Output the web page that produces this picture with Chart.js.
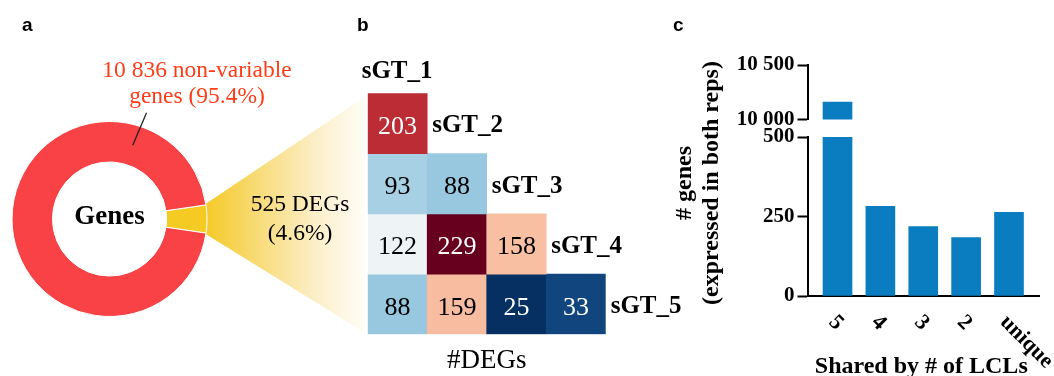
<!DOCTYPE html>
<html>
<head>
<meta charset="utf-8">
<script src="https://cdn.jsdelivr.net/npm/chart.js@4.4.1/dist/chart.umd.min.js"></script>
<style>
  html, body { margin: 0; padding: 0; background: #fff; }
  #page { position: relative; width: 1054px; height: 376px; overflow: hidden; }
  canvas { position: absolute; top: 0; }
  .tag { position: absolute; top: 15px; font: bold 19px/19px 'Liberation Sans', Arial, sans-serif; color: #000; }
</style>
</head>
<body>
<div id="page">
  <canvas id="donut" style="left:0" width="370" height="376"></canvas>
  <canvas id="heat" style="left:340px" width="360" height="376"></canvas>
  <canvas id="barsLow" style="left:670px" width="384" height="376"></canvas>
  <canvas id="barsHigh" style="left:670px" width="384" height="140"></canvas>
  <div class="tag" style="left:22px">a</div>
  <div class="tag" style="left:357px">b</div>
  <div class="tag" style="left:673px">c</div>
</div>
<script>
// panel a: all genes split into DEGs / non-variable
const geneGroups = ['DEGs', 'non-variable genes'];
const geneCounts = [525, 10836];

// panel b: DEGs between pairs of genotypes (lower triangle, one row per genotype)
const genotypes = ['sGT_1', 'sGT_2', 'sGT_3', 'sGT_4', 'sGT_5'];
const degRow2 = [203];
const degRow3 = [93, 88];
const degRow4 = [122, 229, 158];
const degRow5 = [88, 159, 25, 33];

// panel c: genes shared by number of LCLs (broken y axis)
const sharedLabels = ['5', '4', '3', '2', 'unique'];
const sharedCounts = [10160, 282, 218, 184, 263];
const lowTicks = [0, 250, 500];
const highTicks = [10000, 10500];

const SERIF = '"Liberation Serif", "Times New Roman", serif';
const fmt = n => String(n).replace(/\B(?=(\d{3})+(?!\d))/g, ' ');
const noInteraction = { responsive: false, animation: false, events: [] };
const quiet = { legend: { display: false }, tooltip: { enabled: false } };

// ---------- panel b ----------
const degRows = [degRow2, degRow3, degRow4, degRow5];
const allDeg = degRows.flat();
const degLo = Math.min(...allDeg), degHi = Math.max(...allDeg);
const tOf = v => (v - degLo) / (degHi - degLo);

const rdbu = ['#053061', '#2166ac', '#4393c3', '#92c5de', '#d1e5f0', '#f7f7f7',
              '#fddbc7', '#f4a582', '#d6604d', '#b2182b', '#67001f'];
function hexRgb(h) { return [1, 3, 5].map(i => parseInt(h.slice(i, i + 2), 16)); }
function rdbuColor(t) {
  const p = Math.min(Math.max(t, 0), 1) * (rdbu.length - 1);
  const i = Math.min(Math.floor(p), rdbu.length - 2);
  const f = p - i;
  const a = hexRgb(rdbu[i]), b = hexRgb(rdbu[i + 1]);
  return 'rgb(' + a.map((v, k) => Math.round(v + (b[k] - v) * f)).join(',') + ')';
}

const heatText = {
  id: 'heatText',
  afterDatasetsDraw(chart) {
    const { ctx, chartArea } = chart;
    ctx.save();
    chart.data.datasets.forEach((ds, r) => {
      const cells = chart.getDatasetMeta(r).data;
      ctx.font = '26px ' + SERIF;
      ctx.textAlign = 'center';
      cells.forEach((el, c) => {
        const v = ds.counts[c];
        const t = tOf(v);
        ctx.fillStyle = (t < 0.2 || t > 0.8) ? '#fff' : '#000';
        ctx.fillText(v, el.x, (el.y + el.base) / 2 + 10.5);
      });
      const last = cells[cells.length - 1];
      ctx.fillStyle = '#000';
      ctx.font = 'bold 25px ' + SERIF;
      ctx.textAlign = 'left';
      ctx.fillText(ds.label, last.x + last.width / 2 + 5, (last.y + last.base) / 2 + 9);
    });
    ctx.fillText(genotypes[0], chartArea.left - 6, chartArea.top - 15);
    ctx.font = '27px ' + SERIF;
    ctx.textAlign = 'center';
    ctx.fillText('#DEGs', (chartArea.left + chartArea.right) / 2, chartArea.bottom + 34);
    ctx.restore();
  }
};

const heatChart = new Chart(document.getElementById('heat'), {
  type: 'bar',
  data: {
    labels: genotypes.slice(0, 4),
    datasets: degRows.map((row, r) => ({
      label: genotypes[r + 1],
      data: row.map(() => [r, r + 1]),
      counts: row,
      backgroundColor: row.map(v => rdbuColor(tOf(v))),
      borderWidth: 0,
      grouped: false,
      barPercentage: 1,
      categoryPercentage: 1
    }))
  },
  options: {
    ...noInteraction,
    layout: { padding: { left: 27.7, top: 93.3, right: 94.3, bottom: 41.7 } },
    plugins: quiet,
    scales: {
      x: { display: false },
      y: { display: false, min: 0, max: degRows.length, reverse: true }
    }
  },
  plugins: [heatText]
});

// ---------- panel a ----------
const geneTotal = geneCounts.reduce((a, b) => a + b, 0);
const pct = n => (n / geneTotal * 100).toFixed(1) + '%';

const donutExtras = {
  id: 'donutExtras',
  beforeDatasetsDraw(chart) {
    const { ctx } = chart;
    const arc = chart.getDatasetMeta(0).data[0];
    const { x, y, startAngle, endAngle, outerRadius } = arc;
    const heatCanvas = document.getElementById('heat');
    const ha = heatChart.chartArea;
    const fx = heatCanvas.offsetLeft + ha.left - 2;
    const x1 = x + outerRadius * Math.cos(startAngle), y1 = y + outerRadius * Math.sin(startAngle);
    const x2 = x + outerRadius * Math.cos(endAngle), y2 = y + outerRadius * Math.sin(endAngle);
    const g = ctx.createLinearGradient(x1 - 2, 0, fx, 0);
    g.addColorStop(0, '#f5c924');
    g.addColorStop(0.35, '#f8dc7c');
    g.addColorStop(0.7, '#fcefca');
    g.addColorStop(1, '#fffdf8');
    ctx.save();
    ctx.fillStyle = g;
    ctx.beginPath();
    ctx.moveTo(x1 - 2, y1);
    ctx.lineTo(fx, ha.top + 3);
    ctx.lineTo(fx, ha.bottom - 1);
    ctx.lineTo(x2 - 2, y2);
    ctx.closePath();
    ctx.fill();
    ctx.restore();
  },
  afterDraw(chart) {
    const { ctx } = chart;
    const red = chart.getDatasetMeta(0).data[1];
    const { x, y, innerRadius, outerRadius } = red;
    ctx.save();
    ctx.fillStyle = '#000';
    ctx.textAlign = 'center';
    ctx.font = 'bold 27px ' + SERIF;
    ctx.fillText('Genes', x, y + 5);

    // leader line to the red label
    const a = -72.5 * Math.PI / 180;
    const rm = (innerRadius + outerRadius) / 2;
    ctx.strokeStyle = '#222';
    ctx.lineWidth = 1.3;
    ctx.beginPath();
    ctx.moveTo(x + rm * Math.cos(a), y + rm * Math.sin(a));
    ctx.lineTo(x + (outerRadius + 15) * Math.cos(a + 0.03), y + (outerRadius + 15) * Math.sin(a + 0.03));
    ctx.stroke();

    ctx.font = '23.5px ' + SERIF;
    ctx.fillStyle = '#fe3c18';
    ctx.fillText(fmt(geneCounts[1]) + ' non-variable', x + 87.5, y - 142.3);
    ctx.fillText('genes (' + pct(geneCounts[1]) + ')', x + 87.5, y - 115.7);

    ctx.fillStyle = '#000';
    ctx.fillText(fmt(geneCounts[0]) + ' ' + geneGroups[0], x + 190.5, y - 8.3);
    ctx.fillText('(' + pct(geneCounts[0]) + ')', x + 190.5, y + 21);
    ctx.restore();
  }
};

new Chart(document.getElementById('donut'), {
  type: 'doughnut',
  data: {
    labels: geneGroups,
    datasets: [{
      data: geneCounts,
      backgroundColor: ['#f3cb22', '#f84246'],
      borderColor: '#fff',
      borderWidth: 1
    }]
  },
  options: {
    ...noInteraction,
    rotation: 90 - geneCounts[0] / geneTotal * 180,
    cutout: '58.5%',
    radius: 97.5,
    layout: { padding: { left: 12, top: 121.5, right: 163, bottom: 59.5 } },
    plugins: quiet
  },
  plugins: [donutExtras]
});

// ---------- panel c ----------
const barBlue = '#0a7cc0';
const barData = sharedCounts.map((v, i) => ({ x: i + 1, y: v }));

function yAxis(ticks) {
  return {
    min: ticks[0],
    max: ticks[ticks.length - 1],
    afterBuildTicks: s => { s.ticks = ticks.map(v => ({ value: v })); },
    afterFit: s => { s.width = 137.5; },
    ticks: { font: { family: SERIF, size: 21, weight: 'bold' }, color: '#000', padding: 3, callback: v => fmt(v) },
    grid: { drawOnChartArea: false, tickLength: 10, tickWidth: 2, tickColor: '#000' },
    border: { color: '#000', width: 2 }
  };
}

const sharedText = {
  id: 'sharedText',
  afterDraw(chart) {
    const { ctx, chartArea, scales: { x } } = chart;
    ctx.save();
    ctx.fillStyle = '#000';
    ctx.font = 'bold 22px ' + SERIF;
    ctx.textAlign = 'left';
    ctx.textBaseline = 'middle';
    sharedLabels.forEach((lab, i) => {
      const px = x.getPixelForValue(i + 1);
      ctx.save();
      ctx.translate(px - 5.5, chartArea.bottom + 23);
      ctx.rotate(Math.PI / 4);
      ctx.fillText(lab, 0, 0);
      ctx.restore();
    });
    ctx.textBaseline = 'alphabetic';
    ctx.textAlign = 'center';
    ctx.font = 'bold 24px ' + SERIF;
    ctx.fillText('Shared by # of LCLs', (chartArea.left + chartArea.right) / 2 - 2, chartArea.bottom + 76.5);

    ctx.translate(15, 183);
    ctx.rotate(-Math.PI / 2);
    ctx.textBaseline = 'middle';
    ctx.fillText('# genes', 0, 0);
    ctx.fillText('(expressed in both reps)', 0, 27);
    ctx.restore();
  }
};

new Chart(document.getElementById('barsLow'), {
  type: 'bar',
  data: { datasets: [{ data: barData, backgroundColor: barBlue, barThickness: 29 }] },
  options: {
    ...noInteraction,
    layout: { padding: { left: 0, top: 137, right: 15, bottom: 0 } },
    plugins: quiet,
    scales: {
      x: {
        type: 'linear', min: 0.3, max: 5.7, offset: false,
        ticks: { display: false },
        grid: { display: false },
        border: { color: '#000', width: 2 },
        afterFit: s => { s.height = 80; }
      },
      y: yAxis(lowTicks)
    }
  },
  plugins: [sharedText]
});

new Chart(document.getElementById('barsHigh'), {
  type: 'bar',
  data: { datasets: [{ data: barData, backgroundColor: barBlue, barThickness: 29 }] },
  options: {
    ...noInteraction,
    layout: { padding: { left: 0, top: 65, right: 15, bottom: 20.5 } },
    plugins: quiet,
    scales: {
      x: { type: 'linear', min: 0.3, max: 5.7, offset: false, display: false },
      y: yAxis(highTicks)
    }
  }
});
</script>
</body>
</html>
